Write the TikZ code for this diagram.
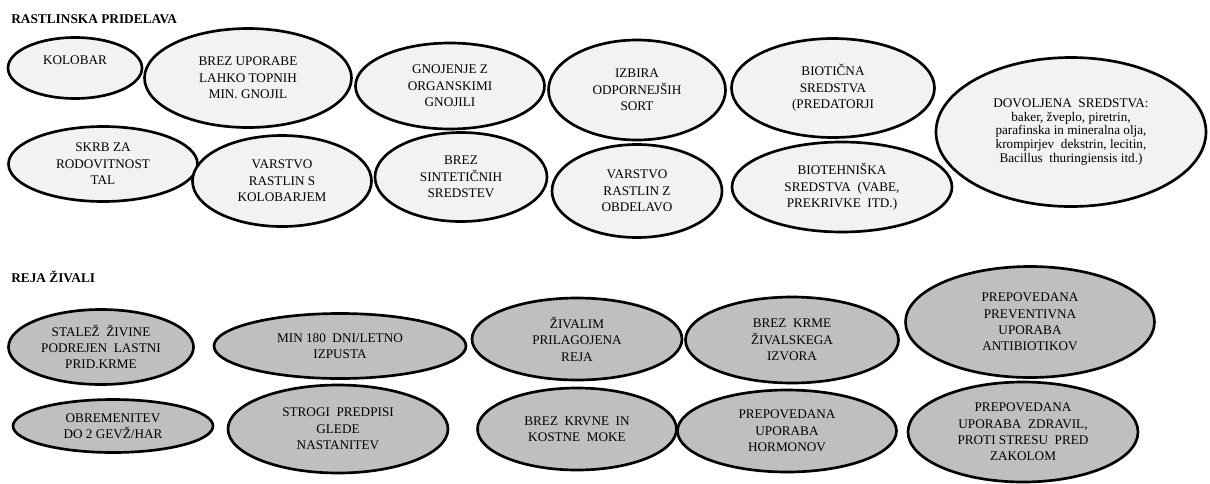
\documentclass[tikz,border=0pt]{standalone}
\usepackage{fontspec}
\setmainfont{Liberation Serif}
\usetikzlibrary{shapes.geometric}

\begin{document}
\begin{tikzpicture}[x=0.75pt, y=-0.75pt,
    oval/.style={ellipse, draw=black, line width=2pt, inner sep=0pt, align=center,
        font=\fontsize{9.9}{12.3}\selectfont},
    plant/.style={oval, fill=gray!10},
    animal/.style={oval, fill=gray!50},
    sz/.style 2 args={minimum width=#1*0.75pt, minimum height=#2*0.75pt},
    heading/.style={anchor=west, inner sep=0pt, font=\fontsize{10}{12}\selectfont\bfseries}]
        \useasboundingbox (0,0) rectangle (1210,483);

        % rastlinska pridelava
        \node[heading] (hplant) at (11,19) {RASTLINSKA PRIDELAVA};

        \node[plant, sz={134}{61}] (kolobar) at (75,68) {KOLOBAR\\\mbox{}};
        \node[plant, sz={207}{99}] (gnojila) at (248,78) {BREZ UPORABE\\LAHKO TOPNIH\\MIN. GNOJIL};
        \node[plant, sz={189}{86}] (organska) at (450,86) {GNOJENJE Z\\ORGANSKIMI\\GNOJILI};
        \node[plant, sz={177}{100}] (sorte) at (637,90) {IZBIRA\\ODPORNEJŠIH\\SORT};
        \node[plant, sz={203}{99}] (biotic) at (833,88) {BIOTIČNA\\SREDSTVA\\(PREDATORJI};
        \node[plant, sz={270}{149}, font=\fontsize{9.9}{10.2}\selectfont] (dovoljena) at (1071,132)
            {DOVOLJENA \ SREDSTVA:\\baker, žveplo, piretrin,\\parafinska in mineralna olja,\\krompirjev \ dekstrin, lecitin,\\Bacillus \ thuringiensis itd.)};

        \node[plant, sz={189}{75}] (tla) at (103,164) {SKRB ZA\\RODOVITNOST\\TAL};
        \node[plant, sz={179}{91}] (varkol) at (282,181) {VARSTVO\\RASTLIN S\\KOLOBARJEM};
        \node[plant, sz={172}{89}] (sintet) at (461,177) {BREZ\\SINTETIČNIH\\SREDSTEV};
        \node[plant, sz={170}{93}] (varobd) at (637,191) {VARSTVO\\RASTLIN Z\\OBDELAVO};
        \node[plant, sz={220}{90}] (biotehn) at (842,187) {BIOTEHNIŠKA\\SREDSTVA \ (VABE,\\PREKRIVKE \ ITD.)};

        % reja zivali
        \node[heading] (hanimal) at (11,277) {REJA ŽIVALI};

        \node[animal, sz={185}{75}] (stalez) at (101,347) {STALEŽ \ ŽIVINE\\PODREJEN \ LASTNI\\PRID.KRME};
        \node[animal, sz={252}{65}] (izpust) at (340,346) {MIN 180 \ DNI/LETNO\\IZPUSTA};
        \node[animal, sz={210}{82}] (prilag) at (577,339) {ŽIVALIM\\PRILAGOJENA\\REJA};
        \node[animal, sz={213}{86}] (krma) at (792,340) {BREZ \ KRME\\ŽIVALSKEGA\\IZVORA};
        \node[animal, sz={249}{111}] (antibio) at (1030,322) {PREPOVEDANA\\PREVENTIVNA\\UPORABA\\ANTIBIOTIKOV};

        \node[animal, sz={200}{53}] (obrem) at (113,426) {OBREMENITEV\\DO 2 GEVŽ/HAR};
        \node[animal, sz={220}{88}] (nastan) at (338,429) {STROGI \ PREDPISI\\GLEDE\\NASTANITEV};
        \node[animal, sz={199}{82}] (moka) at (577,429) {BREZ \ KRVNE \ IN\\KOSTNE \ MOKE};
        \node[animal, sz={219}{82}] (hormon) at (787,431) {PREPOVEDANA\\UPORABA\\HORMONOV};
        \node[animal, sz={230}{100}] (zdravila) at (1023,432) {PREPOVEDANA\\UPORABA \ ZDRAVIL,\\PROTI STRESU \ PRED\\ZAKOLOM};
\end{tikzpicture}
\end{document}
